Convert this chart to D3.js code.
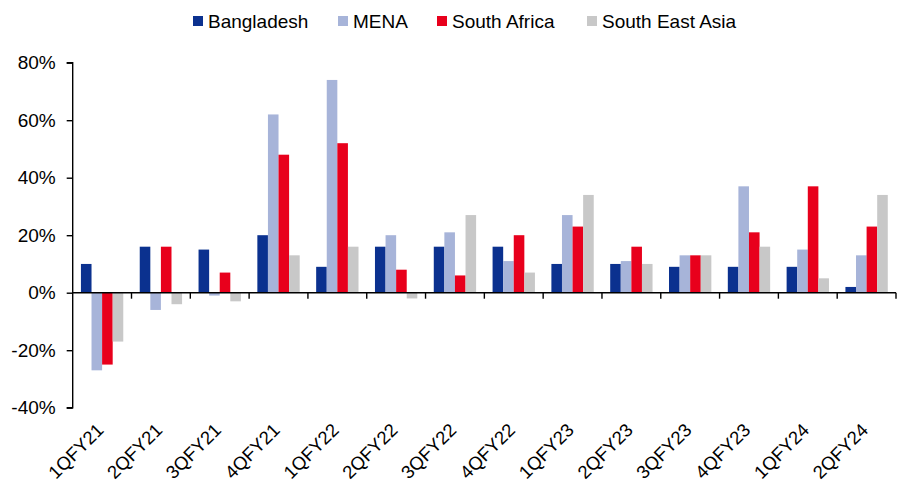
<!DOCTYPE html>
<html>
<head>
<meta charset="utf-8">
<script src="https://cdn.jsdelivr.net/npm/d3@7"></script>
<style>
  body { margin: 0; background: #fff; }
  text { font-family: "Liberation Sans", Arial, sans-serif; fill: #000; }
</style>
</head>
<body>
<script>
// quarters on the x axis
var quarters = ['1QFY21', '2QFY21', '3QFY21', '4QFY21', '1QFY22', '2QFY22', '3QFY22',
  '4QFY22', '1QFY23', '2QFY23', '3QFY23', '4QFY23', '1QFY24', '2QFY24'];

// series names and their values (% growth)
var seriesNames = ['Bangladesh', 'MENA', 'South Africa', 'South East Asia'];
var bangladesh = [10, 16, 15, 20, 9, 16, 16, 16, 10, 10, 9, 9, 9, 2];
var mena = [-27, -6, -1, 62, 74, 20, 21, 11, 27, 11, 13, 37, 15, 13];
var southAfrica = [-25, 16, 7, 48, 52, 8, 6, 20, 23, 16, 13, 21, 37, 23];
var southEastAsia = [-17, -4, -3, 13, 16, -2, 27, 7, 34, 10, 13, 16, 5, 34];

var yTicks = [-40, -20, 0, 20, 40, 60, 80];

var colors = ['#0b318f', '#a7b4d9', '#e8001c', '#c8c8c8'];
var allSeries = [bangladesh, mena, southAfrica, southEastAsia];

var width = 903, height = 491;
// plot box (note: "top" is reserved on window, so use plotTop)
var plotLeft = 72.7, plotRight = 896, plotTop = 62.7, plotBottom = 407.7;

var svg = d3.select('body').append('svg')
  .attr('width', width)
  .attr('height', height);

// scales
var x = d3.scaleBand()
  .domain(quarters)
  .range([plotLeft, plotRight])
  .paddingInner(0.28)
  .paddingOuter(0.14);

var x1 = d3.scaleBand()
  .domain(seriesNames)
  .range([0, x.bandwidth()]);

var y = d3.scaleLinear()
  .domain([-40, 80])
  .range([plotBottom, plotTop]);

// bars, one group per quarter
var groups = svg.append('g').selectAll('g')
  .data(quarters)
  .enter().append('g')
  .attr('transform', function(d) { return 'translate(' + x(d) + ',0)'; });

groups.selectAll('rect')
  .data(function(d, i) {
    return allSeries.map(function(s, j) { return { name: seriesNames[j], v: s[i], c: colors[j] }; });
  })
  .enter().append('rect')
  .attr('x', function(d) { return x1(d.name); })
  .attr('width', x1.bandwidth())
  .attr('y', function(d) { return y(Math.max(0, d.v)); })
  .attr('height', function(d) { return Math.abs(y(d.v) - y(0)); })
  .attr('fill', function(d) { return d.c; });

// y axis
var yAxis = svg.append('g')
  .attr('transform', 'translate(' + plotLeft + ',0)')
  .call(d3.axisLeft(y).tickValues(yTicks).tickSize(6).tickPadding(11)
    .tickFormat(function(d) { return d + '%'; }));
yAxis.select('.domain').attr('stroke', '#000').attr('stroke-width', 1.4)
  .attr('d', 'M-6,' + plotTop + 'H0V' + plotBottom + 'H-6');
yAxis.selectAll('.tick line').attr('stroke', '#000').attr('stroke-width', 1.4);
yAxis.selectAll('.tick text').style('font-size', '19px').attr('fill', '#000');

// x axis at zero with ticks between categories
var step = x.step();
var xAxis = svg.append('g');
xAxis.append('line')
  .attr('x1', plotLeft).attr('x2', plotRight)
  .attr('y1', y(0)).attr('y2', y(0))
  .attr('stroke', '#000').attr('stroke-width', 1.4);
xAxis.selectAll('.xt')
  .data(d3.range(1, quarters.length + 1))
  .enter().append('line')
  .attr('class', 'xt')
  .attr('x1', function(d) { return plotLeft + d * step; })
  .attr('x2', function(d) { return plotLeft + d * step; })
  .attr('y1', y(0)).attr('y2', y(0) + 6)
  .attr('stroke', '#000').attr('stroke-width', 1.4);

// rotated category labels under the plot
svg.append('g').selectAll('text')
  .data(quarters)
  .enter().append('text')
  .attr('transform', function(d) {
    return 'translate(' + (x(d) + x.bandwidth() / 2 - 2) + ',' + (plotBottom + 19) + ') rotate(-45)';
  })
  .attr('text-anchor', 'end')
  .attr('dy', '0.35em')
  .style('font-size', '18.5px')
  .text(function(d) { return d; });

// legend
var legendX = [193, 338, 437, 587];
var legend = svg.append('g').selectAll('g')
  .data(seriesNames)
  .enter().append('g')
  .attr('transform', function(d, i) { return 'translate(' + legendX[i] + ',16)'; });
legend.append('rect')
  .attr('width', 10).attr('height', 10)
  .attr('fill', function(d, i) { return colors[i]; });
legend.append('text')
  .attr('x', 15).attr('y', 11.7)
  .style('font-size', '19px')
  .text(function(d) { return d; });
</script>
</body>
</html>
